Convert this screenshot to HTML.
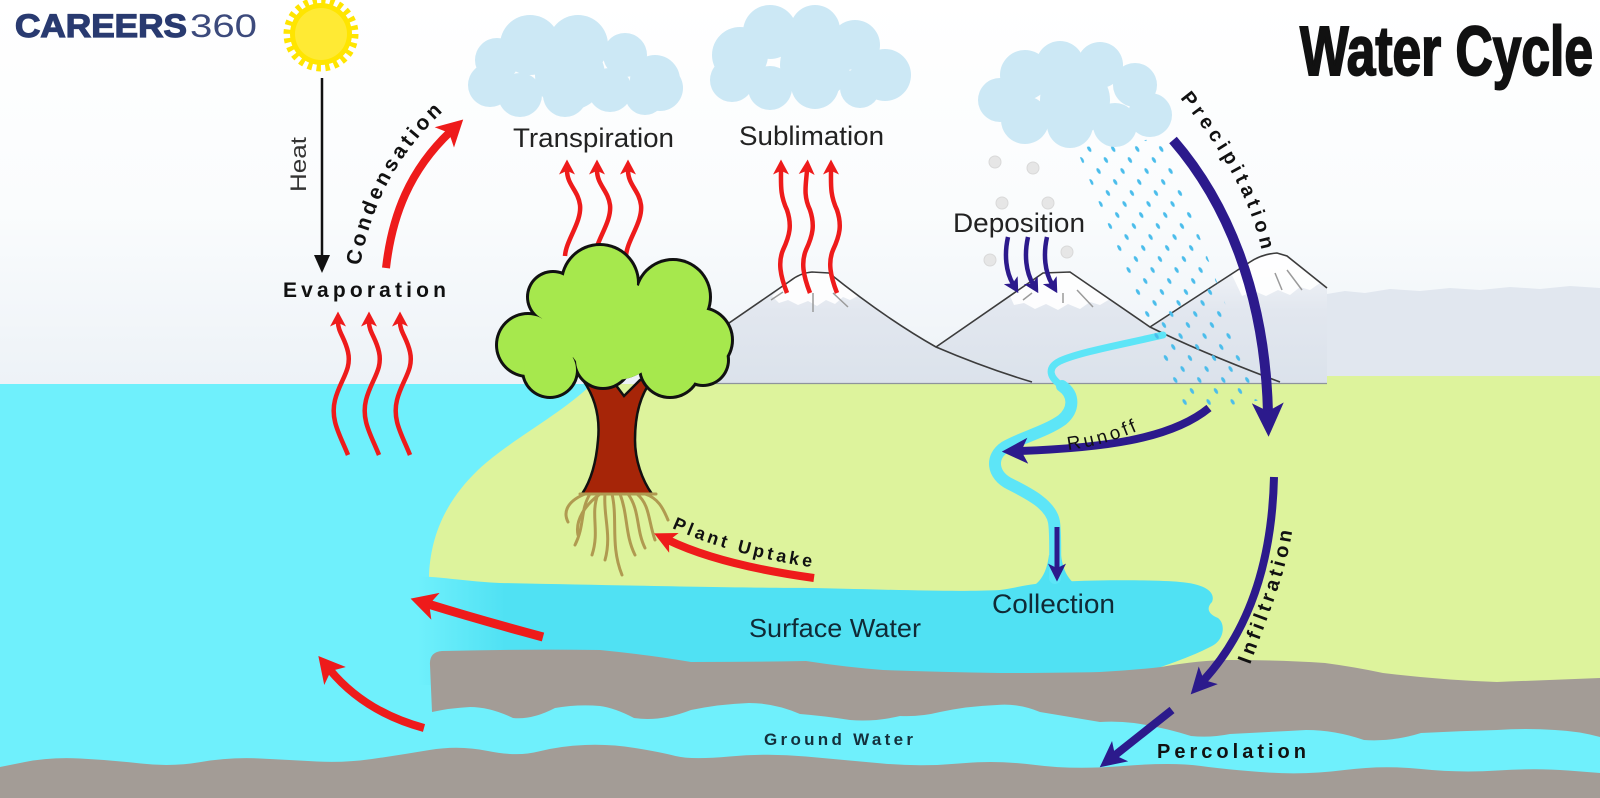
<!DOCTYPE html>
<html><head><meta charset="utf-8">
<style>
html,body{margin:0;padding:0;background:#fff;}
svg{display:block;}
text{font-family:"Liberation Sans",Arial,sans-serif;}
</style></head><body>
<svg width="1600" height="798" viewBox="0 0 1600 798" xmlns="http://www.w3.org/2000/svg">
<defs>
 <linearGradient id="sky" x1="0" y1="0" x2="0" y2="1">
  <stop offset="0" stop-color="#ffffff"/>
  <stop offset="0.55" stop-color="#fafcfd"/>
  <stop offset="1" stop-color="#edf2f7"/>
 </linearGradient>
 <linearGradient id="mtn" x1="0" y1="250" x2="0" y2="384" gradientUnits="userSpaceOnUse">
  <stop offset="0" stop-color="#f5f7fa"/>
  <stop offset="0.45" stop-color="#e2e7ef"/>
  <stop offset="1" stop-color="#dbe2eb"/>
 </linearGradient>
 <linearGradient id="sw" x1="418" y1="0" x2="505" y2="0" gradientUnits="userSpaceOnUse">
  <stop offset="0" stop-color="#6ff0fc"/>
  <stop offset="1" stop-color="#50e1f3"/>
 </linearGradient>
 <pattern id="rain" patternUnits="userSpaceOnUse" width="24" height="22" patternTransform="skewX(23)">
  <ellipse cx="6" cy="6" rx="1.8" ry="2.9" fill="#4bbdeb"/>
  <ellipse cx="18" cy="17" rx="1.8" ry="2.9" fill="#4bbdeb"/>
 </pattern>
 <marker id="mr" viewBox="0 0 20 20" refX="6" refY="10" markerWidth="15" markerHeight="16" markerUnits="userSpaceOnUse" orient="auto" preserveAspectRatio="none"><path d="M0,0 L20,10 L0,20 L5,10 Z" fill="#ee1b1b"/></marker>
 <marker id="mrb" viewBox="0 0 20 20" refX="6" refY="10" markerWidth="26" markerHeight="28" markerUnits="userSpaceOnUse" orient="auto" preserveAspectRatio="none"><path d="M0,0 L20,10 L0,20 L5,10 Z" fill="#ee1b1b"/></marker>
 <marker id="mrm" viewBox="0 0 20 20" refX="6" refY="10" markerWidth="22" markerHeight="22" markerUnits="userSpaceOnUse" orient="auto" preserveAspectRatio="none"><path d="M0,0 L20,10 L0,20 L5,10 Z" fill="#ee1b1b"/></marker>
 <marker id="mpb" viewBox="0 0 20 20" refX="6" refY="10" markerWidth="34" markerHeight="32" markerUnits="userSpaceOnUse" orient="auto" preserveAspectRatio="none"><path d="M0,0 L20,10 L0,20 L5,10 Z" fill="#2c1a8c"/></marker>
 <marker id="mpm" viewBox="0 0 20 20" refX="6" refY="10" markerWidth="26" markerHeight="26" markerUnits="userSpaceOnUse" orient="auto" preserveAspectRatio="none"><path d="M0,0 L20,10 L0,20 L5,10 Z" fill="#2c1a8c"/></marker>
 <marker id="mps" viewBox="0 0 20 20" refX="6" refY="10" markerWidth="18" markerHeight="18" markerUnits="userSpaceOnUse" orient="auto" preserveAspectRatio="none"><path d="M0,0 L20,10 L0,20 L5,10 Z" fill="#2c1a8c"/></marker>
 <marker id="mpx" viewBox="0 0 20 20" refX="6" refY="10" markerWidth="15" markerHeight="16" markerUnits="userSpaceOnUse" orient="auto" preserveAspectRatio="none"><path d="M0,0 L20,10 L0,20 L5,10 Z" fill="#2c1a8c"/></marker>
 <path id="tpCond" d="M360,266 C372,200 400,150 450,105"/>
 <path id="tpPrec" d="M1180,98 C1222,150 1257,205 1266,275"/>
 <path id="tpInf" d="M1250,665 C1270,610 1288,570 1294,518"/>
 <path id="tpPlant" d="M672,528 Q735,557 824,569"/>
 <path id="tpRun" d="M1068,450 Q1110,445 1150,425"/>
</defs>

<!-- sky -->
<rect x="0" y="0" width="1600" height="385" fill="url(#sky)"/>

<!-- distant haze band -->
<path d="M1327,294 L1345,291 L1365,293 L1390,289 L1420,291 L1450,288 L1480,290 L1510,287 L1540,289 L1570,286 L1600,288 L1600,384 L1327,384 Z" fill="#e1e7ef"/>

<!-- mountains -->
<path d="M640,384 L729,322 L790,281 Q800,273 812,272 L829,273 Q885,318 936,347 L1043,273 L1070,272 L1150,327 L1250,262 Q1262,254 1277,253 L1287,256 L1327,288 L1327,384 Z" fill="url(#mtn)"/>
<path d="M772,296 L794,276 Q805,270 815,270 L829,273 L858,296 L850,300 L843,297 L835,304 L826,300 L817,306 L808,301 L798,305 L788,300 L779,303 Z" fill="#ffffff" opacity="0.9"/>
<path d="M1010,296 L1043,273 L1070,272 L1110,299 L1100,305 L1090,302 L1080,309 L1068,304 L1058,310 L1046,304 L1035,309 L1024,303 L1014,305 Z" fill="#ffffff" opacity="0.9"/>
<path d="M1232,275 L1250,262 Q1262,254 1277,253 L1287,256 L1320,283 L1310,290 L1300,287 L1290,295 L1278,290 L1266,296 L1254,291 L1242,296 Z" fill="#ffffff" opacity="0.9"/>
<g stroke="#9a9a9a" stroke-width="1.5" fill="none">
 <path d="M771,300 L783,292"/><path d="M813,293 L813,312"/><path d="M833,293 L848,307"/>
 <path d="M1023,300 L1032,293"/><path d="M1063,293 L1063,303"/><path d="M1077,290 L1093,307"/>
 <path d="M1275,273 L1282,290"/><path d="M1287,270 L1302,290"/>
</g>
<g stroke="#3c3c3c" stroke-width="1.6" fill="none">
 <path d="M700,343 L790,281 Q800,273 812,272 L829,273 Q885,318 936,347 Q985,368 1032,382"/>
 <path d="M936,347 L1043,273 L1070,272 L1150,327 Q1200,352 1280,382"/>
 <path d="M1150,327 L1250,262 Q1262,254 1277,253 L1287,256 L1327,288"/>
</g>

<!-- ocean -->
<rect x="0" y="384" width="1600" height="414" fill="#6ff0fc"/>

<!-- green land -->
<path d="M592,384 L1327,384 L1327,376 L1600,376 L1600,700 L1161,700 L1161,660 L429,660 L429,575 C431,530 450,497 478,470 C510,440 560,415 592,384 Z" fill="#ddf39c"/>
<line x1="640" y1="383.5" x2="1327" y2="383.5" stroke="#8e949c" stroke-width="1.3"/>

<!-- surface water -->
<path d="M418,576 C450,578 475,582 500,583 C650,586 750,588 814,588 C900,590 960,592 1000,590 C1015,588 1025,585 1035,584 C1060,580 1150,579 1180,582 C1205,584 1216,592 1212,602 C1206,608 1208,614 1218,618 C1226,624 1224,640 1212,646 C1195,655 1175,662 1161,667 L1161,685 L418,685 Z" fill="url(#sw)"/>
<path d="M1030,588 C1042,582 1047,570 1049,555 L1061,555 C1063,570 1068,582 1082,588 Z" fill="#50e1f3"/>

<!-- gray rock layer 1 -->
<path d="M432,712 L430,665 Q429,652 442,651 Q520,649 600,650 Q650,655 691,662 Q750,662 806,661 Q845,667 883,670 Q940,672 1000,673 Q1060,673 1100,672 Q1135,670 1161,667 Q1200,660 1230,660 Q1280,660 1325,663 Q1355,667 1383,673 Q1440,680 1497,682 Q1550,680 1600,678 L1600,737 Q1578,731 1555,730 Q1526,728 1497,730 Q1460,731 1421,733 Q1392,742 1364,740 Q1335,730 1306,730 Q1268,732 1230,734 Q1210,738 1191,736 Q1162,727 1134,723 Q1117,721 1100,722 Q1070,717 1040,712 Q1018,703 997,705 Q968,706 940,712 Q920,717 900,716 Q875,722 850,720 Q825,716 800,714 Q775,703 749,703 Q720,704 691,710 Q660,722 634,718 Q615,708 600,706 Q578,704 555,708 Q532,720 513,718 Q490,707 470,707 Q450,708 432,712 Z" fill="#a39c96"/>

<!-- gray rock layer 2 -->
<path d="M0,767 L25,762 Q50,757 80,758.5 Q110,760 141,763.5 Q172,767 201,762 Q230,757 260,758.5 Q290,760 317,761.5 Q344,763 372,759 Q400,755 429.5,750 Q459,745 488,751 Q517,757 538.5,751.5 Q560,746 585,745 Q610,744 635,748 Q660,752 675.5,756 Q691,760 729.5,756.5 Q768,753 806,756.5 Q844,760 882.5,763.5 Q921,767 959,763.5 Q997,760 1035.5,765 Q1074,770 1123,766 Q1172,762 1201,766 Q1230,770 1268,772.5 Q1306,775 1344.5,770 Q1383,765 1421,769 Q1459,773 1497.5,770.5 Q1536,768 1568,770.5 L1600,773 L1600,798 L0,798 Z" fill="#a39c96"/>

<!-- river -->
<path d="M1163,335 C1120,345 1080,352 1060,361 C1046,368 1050,378 1062,386" fill="none" stroke="#5de5f7" stroke-width="7" stroke-linecap="round"/>
<path d="M1062,386 C1075,395 1074,410 1062,420 C1045,432 1020,438 1005,447 C990,457 992,475 1010,484 C1030,494 1051,505 1054,522 C1056,535 1055,555 1055,578" fill="none" stroke="#5de5f7" stroke-width="12" stroke-linecap="round"/>

<!-- rain -->
<path d="M1076,148 L1162,138 L1262,400 L1186,412 Z" fill="url(#rain)"/>

<!-- snowflakes -->
<g fill="#e6e6e6" stroke="#d9d9d9" stroke-width="1">
 <circle cx="995" cy="162" r="6"/><circle cx="1033" cy="168" r="6"/><circle cx="1002" cy="203" r="6"/>
 <circle cx="1048" cy="203" r="6"/><circle cx="990" cy="260" r="6"/><circle cx="1067" cy="252" r="6"/>
</g>

<!-- clouds -->
<g fill="#cce8f5">
 <circle cx="497" cy="60" r="22"/><circle cx="530" cy="45" r="30"/><circle cx="578" cy="45" r="30"/><circle cx="625" cy="55" r="22"/><circle cx="655" cy="80" r="25"/><circle cx="660" cy="88" r="23"/><circle cx="490" cy="85" r="22"/><circle cx="520" cy="95" r="22"/><circle cx="565" cy="95" r="22"/><circle cx="610" cy="90" r="22"/><circle cx="645" cy="95" r="20"/><circle cx="570" cy="75" r="35"/>
 <circle cx="740" cy="55" r="28"/><circle cx="770" cy="32" r="27"/><circle cx="815" cy="30" r="25"/><circle cx="855" cy="45" r="25"/><circle cx="885" cy="75" r="26"/><circle cx="732" cy="80" r="22"/><circle cx="770" cy="88" r="22"/><circle cx="815" cy="85" r="24"/><circle cx="860" cy="88" r="20"/><circle cx="815" cy="65" r="35"/>
 <circle cx="1000" cy="100" r="22"/><circle cx="1025" cy="75" r="25"/><circle cx="1060" cy="65" r="24"/><circle cx="1100" cy="65" r="23"/><circle cx="1135" cy="85" r="22"/><circle cx="1150" cy="115" r="22"/><circle cx="1025" cy="120" r="24"/><circle cx="1070" cy="125" r="23"/><circle cx="1115" cy="125" r="22"/><circle cx="1075" cy="100" r="35"/>
</g>

<!-- sun -->
<circle cx="321" cy="34" r="33" fill="none" stroke="#ffe500" stroke-width="9" stroke-dasharray="4.32 4.32"/>
<circle cx="321" cy="34" r="31" fill="#ffe500"/>
<circle cx="321" cy="34" r="26" fill="#ffea34"/>

<!-- logo -->
<text x="15" y="37" font-size="32" font-weight="bold" fill="#293a70" stroke="#293a70" stroke-width="1.2" textLength="172" lengthAdjust="spacingAndGlyphs">CAREERS</text>
<text x="190" y="37" font-size="32" fill="#3c4a7c" textLength="67" lengthAdjust="spacingAndGlyphs">360</text>

<!-- title -->
<text x="1300" y="75" font-size="70" font-weight="bold" fill="#111" stroke="#111" stroke-width="2" textLength="293" lengthAdjust="spacingAndGlyphs">Water Cycle</text>

<!-- heat -->
<line x1="322" y1="78" x2="322" y2="258" stroke="#111" stroke-width="2.5"/>
<path d="M314,255 L322,273 L330,255 Z" fill="#111"/>
<text transform="translate(306,192) rotate(-90)" font-size="22" fill="#333" textLength="55" lengthAdjust="spacingAndGlyphs">Heat</text>

<!-- evaporation -->
<text x="283" y="297" font-size="21" font-weight="bold" fill="#111" textLength="163">Evaporation</text>
<g fill="none" stroke="#ee1b1b" stroke-width="4.5" marker-end="url(#mr)">
 <path d="M348,455 C340,435 330,420 335,400 C340,380 352,370 348,352 C345,338 338,332 338,322"/>
 <path d="M379,455 C371,435 361,420 366,400 C371,380 383,370 379,352 C376,338 369,332 369,322"/>
 <path d="M410,455 C402,435 392,420 397,400 C402,380 414,370 410,352 C407,338 400,332 400,322"/>
</g>

<!-- condensation -->
<path d="M386,268 C392,215 410,170 450,132" fill="none" stroke="#ee1b1b" stroke-width="8" marker-end="url(#mrb)"/>
<text font-size="21" font-weight="bold" fill="#111" letter-spacing="3.5"><textPath href="#tpCond">Condensation</textPath></text>

<!-- transpiration arrows (behind tree) -->
<g fill="none" stroke="#ee1b1b" stroke-width="4.5" marker-end="url(#mr)">
 <path d="M565,256 C566,240 582,222 580,205 C578,190 567,185 567,170"/>
 <path d="M595,256 C596,240 612,222 610,205 C608,190 597,185 597,170"/>
 <path d="M626,256 C627,240 643,222 641,205 C639,190 628,185 628,170"/>
</g>
<text x="513" y="147" font-size="27" fill="#222" textLength="161" lengthAdjust="spacingAndGlyphs">Transpiration</text>

<!-- sublimation -->
<g fill="none" stroke="#ee1b1b" stroke-width="4.5" marker-end="url(#mr)">
 <path d="M787,293 C780,275 778,262 783,250 C790,235 792,225 787,210 C780,195 781,185 781,170"/>
 <path d="M810,293 C803,275 801,262 806,250 C813,235 815,225 810,210 C803,195 806,185 807,170"/>
 <path d="M837,293 C830,275 828,262 833,250 C840,235 842,225 837,210 C830,195 831,185 831,170"/>
</g>
<text x="739" y="145" font-size="27" fill="#222" textLength="145" lengthAdjust="spacingAndGlyphs">Sublimation</text>

<!-- tree -->
<path d="M583,380 C597,400 600,420 598,440 C596,465 590,482 582,494 L652,494 C642,480 635,460 635,440 C635,415 640,395 652,380 L640,380 L624,396 L612,380 Z" fill="#a62508" stroke="#111" stroke-width="2.5"/>
<g fill="#111">
 <circle cx="600" cy="283" r="40"/><circle cx="673" cy="297" r="39"/><circle cx="553" cy="297" r="27"/><circle cx="528" cy="345" r="33"/><circle cx="700" cy="340" r="34"/><circle cx="550" cy="370" r="29"/><circle cx="603" cy="360" r="30"/><circle cx="670" cy="367" r="32"/><circle cx="703" cy="360" r="27"/><circle cx="615" cy="330" r="50"/>
</g>
<g fill="#a6e84d">
 <circle cx="600" cy="283" r="37"/><circle cx="673" cy="297" r="36"/><circle cx="553" cy="297" r="24"/><circle cx="528" cy="345" r="30"/><circle cx="700" cy="340" r="31"/><circle cx="550" cy="370" r="26"/><circle cx="603" cy="360" r="27"/><circle cx="670" cy="367" r="29"/><circle cx="703" cy="360" r="24"/><circle cx="615" cy="330" r="50"/><circle cx="580" cy="320" r="38"/><circle cx="650" cy="330" r="38"/>
</g>
<g fill="none" stroke="#b09a50" stroke-width="3" stroke-linecap="round">
 <path d="M580,494 L656,494"/>
 <path d="M585,494 C570,500 562,510 568,522"/>
 <path d="M590,494 C580,510 585,525 575,545"/>
 <path d="M598,494 C590,515 600,530 592,555"/>
 <path d="M605,494 C603,515 612,535 605,560"/>
 <path d="M612,494 C618,520 610,545 622,575"/>
 <path d="M620,494 C628,515 625,535 635,555"/>
 <path d="M628,494 C640,510 636,530 645,548"/>
 <path d="M637,494 C650,505 648,520 655,540"/>
 <path d="M645,494 C658,498 663,508 668,520"/>
 <path d="M600,494 C585,505 575,520 578,535"/>
</g>

<!-- plant uptake -->
<path d="M814,578 Q720,565 668,540" fill="none" stroke="#ee1b1b" stroke-width="8" marker-end="url(#mrm)"/>
<text font-size="18" font-weight="bold" fill="#111" letter-spacing="3.3"><textPath href="#tpPlant">Plant Uptake</textPath></text>

<!-- red return arrows -->
<path d="M543,637 Q480,620 428,604" fill="none" stroke="#ee1b1b" stroke-width="9" marker-end="url(#mrb)"/>
<path d="M424,728 Q365,712 330,670" fill="none" stroke="#ee1b1b" stroke-width="8" marker-end="url(#mrb)"/>

<!-- deposition -->
<text x="953" y="232" font-size="27" fill="#222" textLength="132" lengthAdjust="spacingAndGlyphs">Deposition</text>
<g fill="none" stroke="#2c1a8c" stroke-width="4.5" marker-end="url(#mpx)">
 <path d="M1008,237 C1004,255 1006,272 1013,284"/>
 <path d="M1028,237 C1024,255 1026,272 1033,284"/>
 <path d="M1047,237 C1043,255 1045,272 1052,284"/>
</g>

<!-- precipitation -->
<path d="M1173,140 C1225,200 1265,290 1268,413" fill="none" stroke="#2c1a8c" stroke-width="10" marker-end="url(#mpb)"/>
<text font-size="20" font-weight="bold" fill="#111" letter-spacing="4.4"><textPath href="#tpPrec">Precipitation</textPath></text>

<!-- runoff -->
<path d="M1209,408 C1170,440 1100,448 1020,451" fill="none" stroke="#2c1a8c" stroke-width="8" marker-end="url(#mpm)"/>
<text font-size="19" fill="#111" letter-spacing="3.3"><textPath href="#tpRun">Runoff</textPath></text>

<!-- collection -->
<path d="M1057,527 L1057,569" fill="none" stroke="#2c1a8c" stroke-width="5" marker-end="url(#mps)"/>
<text x="992" y="613" font-size="27" fill="#102a36" textLength="123" lengthAdjust="spacingAndGlyphs">Collection</text>

<!-- infiltration -->
<path d="M1274,477 C1272,560 1250,630 1203,681" fill="none" stroke="#2c1a8c" stroke-width="8" marker-end="url(#mpm)"/>
<text font-size="20" font-weight="bold" fill="#111" letter-spacing="3.9"><textPath href="#tpInf">Infiltration</textPath></text>

<!-- percolation -->
<path d="M1172,710 L1114,756" fill="none" stroke="#2c1a8c" stroke-width="8" marker-end="url(#mpm)"/>
<text x="1157" y="758" font-size="20" font-weight="bold" fill="#111" textLength="149">Percolation</text>

<!-- water labels -->
<text x="749" y="637" font-size="26" fill="#102a36" textLength="172" lengthAdjust="spacingAndGlyphs">Surface Water</text>
<text x="764" y="745" font-size="17" font-weight="bold" fill="#14303c" textLength="149">Ground Water</text>
</svg>
</body></html>
